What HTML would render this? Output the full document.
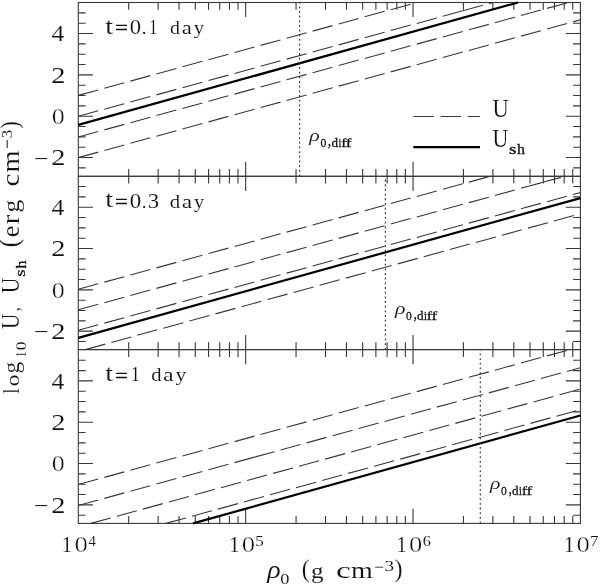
<!DOCTYPE html>
<html><head><meta charset="utf-8"><style>
html,body{margin:0;padding:0;background:#fff;}
svg{display:block;}
</style></head><body>
<svg width="600" height="585" viewBox="0 0 600 585">
<rect width="600" height="585" fill="#fff"/>
<rect x="78.3" y="2.5" width="502.10" height="173.80" fill="none" stroke="#383838" stroke-width="1.1"/>
<rect x="78.3" y="176.3" width="502.10" height="173.30" fill="none" stroke="#383838" stroke-width="1.1"/>
<rect x="78.3" y="349.6" width="502.10" height="173.80" fill="none" stroke="#383838" stroke-width="1.1"/>
<path d="M128.68 176.30v-7.3M128.68 2.50v7.3M158.15 176.30v-7.3M158.15 2.50v7.3M179.06 176.30v-7.3M179.06 2.50v7.3M195.28 176.30v-7.3M195.28 2.50v7.3M208.54 176.30v-7.3M208.54 2.50v7.3M219.74 176.30v-7.3M219.74 2.50v7.3M229.45 176.30v-7.3M229.45 2.50v7.3M238.01 176.30v-7.3M238.01 2.50v7.3M245.67 176.30v-14.6M245.67 2.50v14.6M296.05 176.30v-7.3M296.05 2.50v7.3M325.52 176.30v-7.3M325.52 2.50v7.3M346.43 176.30v-7.3M346.43 2.50v7.3M362.65 176.30v-7.3M362.65 2.50v7.3M375.90 176.30v-7.3M375.90 2.50v7.3M387.11 176.30v-7.3M387.11 2.50v7.3M396.81 176.30v-7.3M396.81 2.50v7.3M405.38 176.30v-7.3M405.38 2.50v7.3M413.03 176.30v-14.6M413.03 2.50v14.6M463.42 176.30v-7.3M463.42 2.50v7.3M492.89 176.30v-7.3M492.89 2.50v7.3M513.80 176.30v-7.3M513.80 2.50v7.3M530.02 176.30v-7.3M530.02 2.50v7.3M543.27 176.30v-7.3M543.27 2.50v7.3M554.47 176.30v-7.3M554.47 2.50v7.3M564.18 176.30v-7.3M564.18 2.50v7.3M572.74 176.30v-7.3M572.74 2.50v7.3M78.30 167.85h7.3M580.40 167.85h-7.3M78.30 157.52h14.6M580.40 157.52h-14.6M78.30 147.19h7.3M580.40 147.19h-7.3M78.30 136.86h7.3M580.40 136.86h-7.3M78.30 126.53h7.3M580.40 126.53h-7.3M78.30 116.20h14.6M580.40 116.20h-14.6M78.30 105.87h7.3M580.40 105.87h-7.3M78.30 95.54h7.3M580.40 95.54h-7.3M78.30 85.21h7.3M580.40 85.21h-7.3M78.30 74.88h14.6M580.40 74.88h-14.6M78.30 64.55h7.3M580.40 64.55h-7.3M78.30 54.22h7.3M580.40 54.22h-7.3M78.30 43.89h7.3M580.40 43.89h-7.3M78.30 33.56h14.6M580.40 33.56h-14.6M78.30 23.23h7.3M580.40 23.23h-7.3M78.30 12.90h7.3M580.40 12.90h-7.3M128.68 349.60v-7.3M128.68 176.30v7.3M158.15 349.60v-7.3M158.15 176.30v7.3M179.06 349.60v-7.3M179.06 176.30v7.3M195.28 349.60v-7.3M195.28 176.30v7.3M208.54 349.60v-7.3M208.54 176.30v7.3M219.74 349.60v-7.3M219.74 176.30v7.3M229.45 349.60v-7.3M229.45 176.30v7.3M238.01 349.60v-7.3M238.01 176.30v7.3M245.67 349.60v-14.6M245.67 176.30v14.6M296.05 349.60v-7.3M296.05 176.30v7.3M325.52 349.60v-7.3M325.52 176.30v7.3M346.43 349.60v-7.3M346.43 176.30v7.3M362.65 349.60v-7.3M362.65 176.30v7.3M375.90 349.60v-7.3M375.90 176.30v7.3M387.11 349.60v-7.3M387.11 176.30v7.3M396.81 349.60v-7.3M396.81 176.30v7.3M405.38 349.60v-7.3M405.38 176.30v7.3M413.03 349.60v-14.6M413.03 176.30v14.6M463.42 349.60v-7.3M463.42 176.30v7.3M492.89 349.60v-7.3M492.89 176.30v7.3M513.80 349.60v-7.3M513.80 176.30v7.3M530.02 349.60v-7.3M530.02 176.30v7.3M543.27 349.60v-7.3M543.27 176.30v7.3M554.47 349.60v-7.3M554.47 176.30v7.3M564.18 349.60v-7.3M564.18 176.30v7.3M572.74 349.60v-7.3M572.74 176.30v7.3M78.30 341.50h7.3M580.40 341.50h-7.3M78.30 331.17h14.6M580.40 331.17h-14.6M78.30 320.84h7.3M580.40 320.84h-7.3M78.30 310.51h7.3M580.40 310.51h-7.3M78.30 300.18h7.3M580.40 300.18h-7.3M78.30 289.85h14.6M580.40 289.85h-14.6M78.30 279.52h7.3M580.40 279.52h-7.3M78.30 269.19h7.3M580.40 269.19h-7.3M78.30 258.86h7.3M580.40 258.86h-7.3M78.30 248.53h14.6M580.40 248.53h-14.6M78.30 238.20h7.3M580.40 238.20h-7.3M78.30 227.87h7.3M580.40 227.87h-7.3M78.30 217.54h7.3M580.40 217.54h-7.3M78.30 207.21h14.6M580.40 207.21h-14.6M78.30 196.88h7.3M580.40 196.88h-7.3M78.30 186.55h7.3M580.40 186.55h-7.3M128.68 523.40v-7.3M128.68 349.60v7.3M158.15 523.40v-7.3M158.15 349.60v7.3M179.06 523.40v-7.3M179.06 349.60v7.3M195.28 523.40v-7.3M195.28 349.60v7.3M208.54 523.40v-7.3M208.54 349.60v7.3M219.74 523.40v-7.3M219.74 349.60v7.3M229.45 523.40v-7.3M229.45 349.60v7.3M238.01 523.40v-7.3M238.01 349.60v7.3M245.67 523.40v-14.6M245.67 349.60v14.6M296.05 523.40v-7.3M296.05 349.60v7.3M325.52 523.40v-7.3M325.52 349.60v7.3M346.43 523.40v-7.3M346.43 349.60v7.3M362.65 523.40v-7.3M362.65 349.60v7.3M375.90 523.40v-7.3M375.90 349.60v7.3M387.11 523.40v-7.3M387.11 349.60v7.3M396.81 523.40v-7.3M396.81 349.60v7.3M405.38 523.40v-7.3M405.38 349.60v7.3M413.03 523.40v-14.6M413.03 349.60v14.6M463.42 523.40v-7.3M463.42 349.60v7.3M492.89 523.40v-7.3M492.89 349.60v7.3M513.80 523.40v-7.3M513.80 349.60v7.3M530.02 523.40v-7.3M530.02 349.60v7.3M543.27 523.40v-7.3M543.27 349.60v7.3M554.47 523.40v-7.3M554.47 349.60v7.3M564.18 523.40v-7.3M564.18 349.60v7.3M572.74 523.40v-7.3M572.74 349.60v7.3M78.30 515.20h7.3M580.40 515.20h-7.3M78.30 504.87h14.6M580.40 504.87h-14.6M78.30 494.54h7.3M580.40 494.54h-7.3M78.30 484.21h7.3M580.40 484.21h-7.3M78.30 473.88h7.3M580.40 473.88h-7.3M78.30 463.55h14.6M580.40 463.55h-14.6M78.30 453.22h7.3M580.40 453.22h-7.3M78.30 442.89h7.3M580.40 442.89h-7.3M78.30 432.56h7.3M580.40 432.56h-7.3M78.30 422.23h14.6M580.40 422.23h-14.6M78.30 411.90h7.3M580.40 411.90h-7.3M78.30 401.57h7.3M580.40 401.57h-7.3M78.30 391.24h7.3M580.40 391.24h-7.3M78.30 380.91h14.6M580.40 380.91h-14.6M78.30 370.58h7.3M580.40 370.58h-7.3M78.30 360.25h7.3M580.40 360.25h-7.3" stroke="#383838" stroke-width="1.1" fill="none"/>
<path d="M78.30 95.40L416.86 2.50" stroke="#383838" stroke-width="1.1" stroke-dasharray="20.7 6.3" fill="none"/>
<path d="M78.30 116.30L462.90 10.77" stroke="#383838" stroke-width="1.1" stroke-dasharray="20.7 6.3" fill="none"/>
<path d="M462.90 10.77L493.02 2.50" stroke="#383838" stroke-width="1.1" stroke-dasharray="20.7 6.3" fill="none"/>
<path d="M78.30 137.00L568.46 2.50" stroke="#383838" stroke-width="1.1" stroke-dasharray="20.7 6.3" fill="none"/>
<path d="M78.30 157.60L580.40 19.82" stroke="#383838" stroke-width="1.1" stroke-dasharray="20.7 6.3" fill="none"/>
<path d="M78.30 124.90L517.96 2.50" stroke="#000" stroke-width="2.2" fill="none"/>
<path d="M78.30 289.30L490.11 176.30" stroke="#383838" stroke-width="1.1" stroke-dasharray="20.7 6.3" fill="none"/>
<path d="M78.30 309.80L541.00 182.84" stroke="#383838" stroke-width="1.1" stroke-dasharray="20.7 6.3" fill="none"/>
<path d="M541.00 182.84L564.82 176.30" stroke="#383838" stroke-width="1.1" stroke-dasharray="20.7 6.3" fill="none"/>
<path d="M78.30 330.30L580.40 192.52" stroke="#383838" stroke-width="1.1" stroke-dasharray="20.7 6.3" fill="none"/>
<path d="M85.30 349.60L580.40 213.74" stroke="#383838" stroke-width="1.1" stroke-dasharray="20.7 6.3" fill="none"/>
<path d="M78.30 337.85L580.40 198.07" stroke="#000" stroke-width="2.2" fill="none"/>
<path d="M78.30 484.50L569.92 349.60" stroke="#383838" stroke-width="1.1" stroke-dasharray="20.7 6.3" fill="none"/>
<path d="M78.30 505.50L254.50 457.15" stroke="#383838" stroke-width="1.1" stroke-dasharray="20.7 6.3" fill="none"/>
<path d="M254.50 457.15L580.40 367.72" stroke="#383838" stroke-width="1.1" stroke-dasharray="20.7 6.3" fill="none"/>
<path d="M90.80 523.40L580.40 389.05" stroke="#383838" stroke-width="1.1" stroke-dasharray="20.7 6.3" fill="none"/>
<path d="M165.90 523.40L580.40 409.66" stroke="#383838" stroke-width="1.1" stroke-dasharray="20.7 6.3" fill="none"/>
<path d="M193.00 523.40L580.40 415.55" stroke="#000" stroke-width="2.2" fill="none"/>
<path d="M299.6 176.3V2.5" stroke="#383838" stroke-width="1.2" stroke-dasharray="1.8 2.87" fill="none"/>
<path d="M385.4 349.6V176.3" stroke="#383838" stroke-width="1.2" stroke-dasharray="1.8 2.87" fill="none"/>
<path d="M480.3 523.4V349.6" stroke="#383838" stroke-width="1.2" stroke-dasharray="1.8 2.87" fill="none"/>
<path d="M413.3 116.5H480" stroke="#383838" stroke-width="1.1" stroke-dasharray="20.5 6.7" fill="none"/>
<path d="M413.3 147.1H480" stroke="#000" stroke-width="2.2" fill="none"/>
<g style="will-change:transform" opacity="0.999">
<text transform="matrix(1.1247,0,0,1.2264,492.528,116.660)" font-family='"Liberation Serif", serif' font-size="20.0" font-weight="normal" font-style="normal" fill="#111" stroke="#fff" stroke-width="0.1">U</text>
<text transform="matrix(1.0953,0,0,1.2339,492.540,147.459)" font-family='"Liberation Serif", serif' font-size="20.0" font-weight="normal" font-style="normal" fill="#111" stroke="#fff" stroke-width="0.1">U</text>
<text transform="matrix(0.9615,0,0,0.7485,509.011,154.254)" font-family='"Liberation Serif", serif' font-size="20.0" font-weight="normal" font-style="normal" fill="#111" stroke="#111" stroke-width="0.45">s</text>
<text transform="matrix(0.7966,0,0,0.6918,517.044,154.400)" font-family='"Liberation Serif", serif' font-size="20.0" font-weight="normal" font-style="normal" fill="#111" stroke="#111" stroke-width="0.45">h</text>
<text transform="matrix(1.4111,0,0,1.1174,105.324,33.582)" font-family='"Liberation Serif", serif' font-size="20.0" font-weight="normal" font-style="normal" fill="#111" stroke="#fff" stroke-width="0.1">t</text>
<text transform="matrix(1.1497,0,0,0.9800,114.955,34.458)" font-family='"Liberation Serif", serif' font-size="20.0" font-weight="normal" font-style="normal" fill="#111" stroke="#111" stroke-width="0.35">=</text>
<text transform="matrix(1.1325,0,0,1.0077,129.637,33.703)" font-family='"Liberation Serif", serif' font-size="20.0" font-weight="normal" font-style="normal" fill="#111" stroke="#fff" stroke-width="0.1">0</text>
<text transform="matrix(0.9309,0,0,0.9500,141.773,33.800)" font-family='"Liberation Serif", serif' font-size="20.0" font-weight="normal" font-style="normal" fill="#111" stroke="#fff" stroke-width="0.1">.</text>
<text transform="matrix(0.7953,0,0,1.0301,149.302,33.900)" font-family='"Liberation Serif", serif' font-size="20.0" font-weight="normal" font-style="normal" fill="#111" stroke="#fff" stroke-width="0.1">1</text>
<text transform="matrix(0.9963,0,0,0.9500,169.880,33.800)" font-family='"Liberation Serif", serif' font-size="20.0" font-weight="normal" font-style="normal" fill="#111" stroke="#fff" stroke-width="0.1">d</text>
<text transform="matrix(1.1392,0,0,0.9500,181.799,33.800)" font-family='"Liberation Serif", serif' font-size="20.0" font-weight="normal" font-style="normal" fill="#111" stroke="#fff" stroke-width="0.1">a</text>
<text transform="matrix(1.0436,0,0,0.9500,193.645,33.800)" font-family='"Liberation Serif", serif' font-size="20.0" font-weight="normal" font-style="normal" fill="#111" stroke="#fff" stroke-width="0.1">y</text>
<text transform="matrix(1.4111,0,0,1.1174,105.324,207.382)" font-family='"Liberation Serif", serif' font-size="20.0" font-weight="normal" font-style="normal" fill="#111" stroke="#fff" stroke-width="0.1">t</text>
<text transform="matrix(1.1497,0,0,0.9800,114.955,208.258)" font-family='"Liberation Serif", serif' font-size="20.0" font-weight="normal" font-style="normal" fill="#111" stroke="#111" stroke-width="0.35">=</text>
<text transform="matrix(1.1443,0,0,1.0077,129.828,207.503)" font-family='"Liberation Serif", serif' font-size="20.0" font-weight="normal" font-style="normal" fill="#111" stroke="#fff" stroke-width="0.1">0</text>
<text transform="matrix(0.8463,0,0,0.9500,141.984,207.600)" font-family='"Liberation Serif", serif' font-size="20.0" font-weight="normal" font-style="normal" fill="#111" stroke="#fff" stroke-width="0.1">.</text>
<text transform="matrix(1.1378,0,0,1.0121,147.711,207.502)" font-family='"Liberation Serif", serif' font-size="20.0" font-weight="normal" font-style="normal" fill="#111" stroke="#fff" stroke-width="0.1">3</text>
<text transform="matrix(1.0406,0,0,0.9500,169.848,207.600)" font-family='"Liberation Serif", serif' font-size="20.0" font-weight="normal" font-style="normal" fill="#111" stroke="#fff" stroke-width="0.1">d</text>
<text transform="matrix(1.1645,0,0,0.9500,181.681,207.600)" font-family='"Liberation Serif", serif' font-size="20.0" font-weight="normal" font-style="normal" fill="#111" stroke="#fff" stroke-width="0.1">a</text>
<text transform="matrix(1.0230,0,0,0.9500,193.950,207.600)" font-family='"Liberation Serif", serif' font-size="20.0" font-weight="normal" font-style="normal" fill="#111" stroke="#fff" stroke-width="0.1">y</text>
<text transform="matrix(1.4111,0,0,1.1174,105.324,381.082)" font-family='"Liberation Serif", serif' font-size="20.0" font-weight="normal" font-style="normal" fill="#111" stroke="#fff" stroke-width="0.1">t</text>
<text transform="matrix(1.1497,0,0,0.9800,114.955,381.958)" font-family='"Liberation Serif", serif' font-size="20.0" font-weight="normal" font-style="normal" fill="#111" stroke="#111" stroke-width="0.35">=</text>
<text transform="matrix(0.9232,0,0,1.0301,130.777,381.400)" font-family='"Liberation Serif", serif' font-size="20.0" font-weight="normal" font-style="normal" fill="#111" stroke="#fff" stroke-width="0.1">1</text>
<text transform="matrix(1.0295,0,0,0.9500,151.156,381.300)" font-family='"Liberation Serif", serif' font-size="20.0" font-weight="normal" font-style="normal" fill="#111" stroke="#fff" stroke-width="0.1">d</text>
<text transform="matrix(1.1961,0,0,0.9500,162.909,381.300)" font-family='"Liberation Serif", serif' font-size="20.0" font-weight="normal" font-style="normal" fill="#111" stroke="#fff" stroke-width="0.1">a</text>
<text transform="matrix(1.0850,0,0,0.9500,175.485,381.300)" font-family='"Liberation Serif", serif' font-size="20.0" font-weight="normal" font-style="normal" fill="#111" stroke="#fff" stroke-width="0.1">y</text>
<text transform="matrix(1.0945,0,0,0.8796,309.356,140.755)" font-family='"Liberation Serif", serif' font-size="20.0" font-weight="normal" font-style="italic" fill="#111" stroke="#fff" stroke-width="0.1">ρ</text>
<text transform="matrix(0.5781,0,0,0.6224,320.460,146.578)" font-family='"Liberation Serif", serif' font-size="20.0" font-weight="normal" font-style="normal" fill="#111" stroke="#111" stroke-width="0.45">0</text>
<text transform="matrix(0.6043,0,0,0.8176,328.040,145.685)" font-family='"Liberation Serif", serif' font-size="20.0" font-weight="normal" font-style="normal" fill="#111" stroke="#111" stroke-width="0.45">,</text>
<text transform="matrix(0.6531,0,0,0.5756,331.428,146.588)" font-family='"Liberation Serif", serif' font-size="20.0" font-weight="normal" font-style="normal" fill="#111" stroke="#111" stroke-width="0.45">d</text>
<text transform="matrix(0.5046,0,0,0.5890,338.488,146.700)" font-family='"Liberation Serif", serif' font-size="20.0" font-weight="normal" font-style="normal" fill="#111" stroke="#111" stroke-width="0.45">i</text>
<text transform="matrix(0.7941,0,0,0.5752,341.211,146.700)" font-family='"Liberation Serif", serif' font-size="20.0" font-weight="normal" font-style="normal" fill="#111" stroke="#111" stroke-width="0.45">f</text>
<text transform="matrix(0.8602,0,0,0.5752,345.871,146.700)" font-family='"Liberation Serif", serif' font-size="20.0" font-weight="normal" font-style="normal" fill="#111" stroke="#111" stroke-width="0.45">f</text>
<text transform="matrix(1.0945,0,0,0.8796,394.956,314.255)" font-family='"Liberation Serif", serif' font-size="20.0" font-weight="normal" font-style="italic" fill="#111" stroke="#fff" stroke-width="0.1">ρ</text>
<text transform="matrix(0.5781,0,0,0.6224,406.060,320.078)" font-family='"Liberation Serif", serif' font-size="20.0" font-weight="normal" font-style="normal" fill="#111" stroke="#111" stroke-width="0.45">0</text>
<text transform="matrix(0.6043,0,0,0.8176,413.640,319.185)" font-family='"Liberation Serif", serif' font-size="20.0" font-weight="normal" font-style="normal" fill="#111" stroke="#111" stroke-width="0.45">,</text>
<text transform="matrix(0.6531,0,0,0.5756,417.028,320.088)" font-family='"Liberation Serif", serif' font-size="20.0" font-weight="normal" font-style="normal" fill="#111" stroke="#111" stroke-width="0.45">d</text>
<text transform="matrix(0.5046,0,0,0.5890,424.088,320.200)" font-family='"Liberation Serif", serif' font-size="20.0" font-weight="normal" font-style="normal" fill="#111" stroke="#111" stroke-width="0.45">i</text>
<text transform="matrix(0.7941,0,0,0.5752,426.811,320.200)" font-family='"Liberation Serif", serif' font-size="20.0" font-weight="normal" font-style="normal" fill="#111" stroke="#111" stroke-width="0.45">f</text>
<text transform="matrix(0.8602,0,0,0.5752,431.471,320.200)" font-family='"Liberation Serif", serif' font-size="20.0" font-weight="normal" font-style="normal" fill="#111" stroke="#111" stroke-width="0.45">f</text>
<text transform="matrix(1.0945,0,0,0.8796,489.956,489.055)" font-family='"Liberation Serif", serif' font-size="20.0" font-weight="normal" font-style="italic" fill="#111" stroke="#fff" stroke-width="0.1">ρ</text>
<text transform="matrix(0.5781,0,0,0.6224,501.060,494.878)" font-family='"Liberation Serif", serif' font-size="20.0" font-weight="normal" font-style="normal" fill="#111" stroke="#111" stroke-width="0.45">0</text>
<text transform="matrix(0.6043,0,0,0.8176,508.640,493.985)" font-family='"Liberation Serif", serif' font-size="20.0" font-weight="normal" font-style="normal" fill="#111" stroke="#111" stroke-width="0.45">,</text>
<text transform="matrix(0.6531,0,0,0.5756,512.028,494.888)" font-family='"Liberation Serif", serif' font-size="20.0" font-weight="normal" font-style="normal" fill="#111" stroke="#111" stroke-width="0.45">d</text>
<text transform="matrix(0.5046,0,0,0.5890,519.088,495.000)" font-family='"Liberation Serif", serif' font-size="20.0" font-weight="normal" font-style="normal" fill="#111" stroke="#111" stroke-width="0.45">i</text>
<text transform="matrix(0.7941,0,0,0.5752,521.811,495.000)" font-family='"Liberation Serif", serif' font-size="20.0" font-weight="normal" font-style="normal" fill="#111" stroke="#111" stroke-width="0.45">f</text>
<text transform="matrix(0.8602,0,0,0.5752,526.471,495.000)" font-family='"Liberation Serif", serif' font-size="20.0" font-weight="normal" font-style="normal" fill="#111" stroke="#111" stroke-width="0.45">f</text>
<text transform="matrix(1.2800,0,0,1.1547,51.600,41.160)" font-family='"Liberation Serif", serif' font-size="20.0" font-weight="normal" font-style="normal" fill="#111" stroke="#fff" stroke-width="0.1">4</text>
<text transform="matrix(1.4219,0,0,1.1932,51.350,82.780)" font-family='"Liberation Serif", serif' font-size="20.0" font-weight="normal" font-style="normal" fill="#111" stroke="#fff" stroke-width="0.1">2</text>
<text transform="matrix(1.2977,0,0,1.1781,51.712,123.920)" font-family='"Liberation Serif", serif' font-size="20.0" font-weight="normal" font-style="normal" fill="#111" stroke="#fff" stroke-width="0.3">0</text>
<text transform="matrix(1.2894,0,0,1.1043,34.016,165.703)" font-family='"Liberation Serif", serif' font-size="20.0" font-weight="normal" font-style="normal" fill="#111" stroke="#fff" stroke-width="0.1">−</text>
<text transform="matrix(1.4219,0,0,1.1932,51.150,165.420)" font-family='"Liberation Serif", serif' font-size="20.0" font-weight="normal" font-style="normal" fill="#111" stroke="#fff" stroke-width="0.1">2</text>
<text transform="matrix(1.2800,0,0,1.1547,51.600,214.810)" font-family='"Liberation Serif", serif' font-size="20.0" font-weight="normal" font-style="normal" fill="#111" stroke="#fff" stroke-width="0.1">4</text>
<text transform="matrix(1.4219,0,0,1.1932,51.350,256.430)" font-family='"Liberation Serif", serif' font-size="20.0" font-weight="normal" font-style="normal" fill="#111" stroke="#fff" stroke-width="0.1">2</text>
<text transform="matrix(1.2977,0,0,1.1781,51.712,297.570)" font-family='"Liberation Serif", serif' font-size="20.0" font-weight="normal" font-style="normal" fill="#111" stroke="#fff" stroke-width="0.3">0</text>
<text transform="matrix(1.2894,0,0,1.1043,34.016,339.353)" font-family='"Liberation Serif", serif' font-size="20.0" font-weight="normal" font-style="normal" fill="#111" stroke="#fff" stroke-width="0.1">−</text>
<text transform="matrix(1.4219,0,0,1.1932,51.150,339.070)" font-family='"Liberation Serif", serif' font-size="20.0" font-weight="normal" font-style="normal" fill="#111" stroke="#fff" stroke-width="0.1">2</text>
<text transform="matrix(1.2800,0,0,1.1547,51.600,388.510)" font-family='"Liberation Serif", serif' font-size="20.0" font-weight="normal" font-style="normal" fill="#111" stroke="#fff" stroke-width="0.1">4</text>
<text transform="matrix(1.4219,0,0,1.1932,51.350,430.130)" font-family='"Liberation Serif", serif' font-size="20.0" font-weight="normal" font-style="normal" fill="#111" stroke="#fff" stroke-width="0.1">2</text>
<text transform="matrix(1.2977,0,0,1.1781,51.712,471.270)" font-family='"Liberation Serif", serif' font-size="20.0" font-weight="normal" font-style="normal" fill="#111" stroke="#fff" stroke-width="0.3">0</text>
<text transform="matrix(1.2894,0,0,1.1043,34.016,513.053)" font-family='"Liberation Serif", serif' font-size="20.0" font-weight="normal" font-style="normal" fill="#111" stroke="#fff" stroke-width="0.1">−</text>
<text transform="matrix(1.4219,0,0,1.1932,51.150,512.770)" font-family='"Liberation Serif", serif' font-size="20.0" font-weight="normal" font-style="normal" fill="#111" stroke="#fff" stroke-width="0.1">2</text>
<text transform="matrix(1.0226,0,0,1.1815,61.802,552.300)" font-family='"Liberation Serif", serif' font-size="20.0" font-weight="normal" font-style="normal" fill="#111" stroke="#fff" stroke-width="0.1">1</text>
<text transform="matrix(1.3331,0,0,1.1855,74.385,552.368)" font-family='"Liberation Serif", serif' font-size="20.0" font-weight="normal" font-style="normal" fill="#111" stroke="#fff" stroke-width="0.3">0</text>
<text transform="matrix(0.7422,0,0,0.7596,88.610,545.700)" font-family='"Liberation Serif", serif' font-size="20.0" font-weight="normal" font-style="normal" fill="#111" stroke="#fff" stroke-width="0.1">4</text>
<text transform="matrix(1.0226,0,0,1.1815,229.202,552.300)" font-family='"Liberation Serif", serif' font-size="20.0" font-weight="normal" font-style="normal" fill="#111" stroke="#fff" stroke-width="0.1">1</text>
<text transform="matrix(1.3331,0,0,1.1855,241.785,552.368)" font-family='"Liberation Serif", serif' font-size="20.0" font-weight="normal" font-style="normal" fill="#111" stroke="#fff" stroke-width="0.3">0</text>
<text transform="matrix(0.8564,0,0,0.7524,255.305,545.553)" font-family='"Liberation Serif", serif' font-size="20.0" font-weight="normal" font-style="normal" fill="#111" stroke="#fff" stroke-width="0.1">5</text>
<text transform="matrix(1.0226,0,0,1.1815,396.402,552.300)" font-family='"Liberation Serif", serif' font-size="20.0" font-weight="normal" font-style="normal" fill="#111" stroke="#fff" stroke-width="0.1">1</text>
<text transform="matrix(1.3331,0,0,1.1855,408.985,552.368)" font-family='"Liberation Serif", serif' font-size="20.0" font-weight="normal" font-style="normal" fill="#111" stroke="#fff" stroke-width="0.3">0</text>
<text transform="matrix(0.8075,0,0,0.7442,422.806,545.555)" font-family='"Liberation Serif", serif' font-size="20.0" font-weight="normal" font-style="normal" fill="#111" stroke="#fff" stroke-width="0.1">6</text>
<text transform="matrix(1.0226,0,0,1.1815,564.002,552.300)" font-family='"Liberation Serif", serif' font-size="20.0" font-weight="normal" font-style="normal" fill="#111" stroke="#fff" stroke-width="0.1">1</text>
<text transform="matrix(1.3331,0,0,1.1855,576.585,552.368)" font-family='"Liberation Serif", serif' font-size="20.0" font-weight="normal" font-style="normal" fill="#111" stroke="#fff" stroke-width="0.3">0</text>
<text transform="matrix(0.8513,0,0,0.7636,589.978,545.700)" font-family='"Liberation Serif", serif' font-size="20.0" font-weight="normal" font-style="normal" fill="#111" stroke="#fff" stroke-width="0.1">7</text>
<text transform="matrix(1.3997,0,0,1.2534,267.311,577.663)" font-family='"Liberation Serif", serif' font-size="20.0" font-weight="normal" font-style="italic" fill="#111" stroke="#fff" stroke-width="0.1">ρ</text>
<text transform="matrix(0.9202,0,0,0.7261,280.199,583.858)" font-family='"Liberation Serif", serif' font-size="20.0" font-weight="normal" font-style="normal" fill="#111" stroke="#fff" stroke-width="0.1">0</text>
<text transform="matrix(1.1875,0,0,1.2407,301.656,577.117)" font-family='"Liberation Serif", serif' font-size="20.0" font-weight="normal" font-style="normal" fill="#111" stroke="#fff" stroke-width="0.1">(</text>
<text transform="matrix(1.2557,0,0,1.0562,310.921,577.841)" font-family='"Liberation Serif", serif' font-size="20.0" font-weight="normal" font-style="normal" fill="#111" stroke="#fff" stroke-width="0.1">g</text>
<text transform="matrix(1.6667,0,0,1.1851,336.030,577.869)" font-family='"Liberation Serif", serif' font-size="20.0" font-weight="normal" font-style="normal" fill="#111" stroke="#fff" stroke-width="0.1">c</text>
<text transform="matrix(1.4031,0,0,1.1779,350.911,577.800)" font-family='"Liberation Serif", serif' font-size="20.0" font-weight="normal" font-style="normal" fill="#111" stroke="#fff" stroke-width="0.1">m</text>
<text transform="matrix(0.8811,0,0,1.2047,374.222,574.800)" font-family='"Liberation Serif", serif' font-size="20.0" font-weight="normal" font-style="normal" fill="#111" stroke="#fff" stroke-width="0.1">−</text>
<text transform="matrix(0.9562,0,0,0.7814,384.385,571.447)" font-family='"Liberation Serif", serif' font-size="20.0" font-weight="normal" font-style="normal" fill="#111" stroke="#fff" stroke-width="0.1">3</text>
<text transform="matrix(1.2070,0,0,1.2959,394.422,577.382)" font-family='"Liberation Serif", serif' font-size="20.0" font-weight="normal" font-style="normal" fill="#111" stroke="#fff" stroke-width="0.1">)</text>
<text transform="matrix(0,-1.0093,1.2034,0,19.100,393.804)" font-family='"Liberation Serif", serif' font-size="20.0" font-weight="normal" font-style="normal" fill="#111" stroke="#fff" stroke-width="0.1">l</text>
<text transform="matrix(0,-1.1915,0.9252,0,18.919,386.508)" font-family='"Liberation Serif", serif' font-size="20.0" font-weight="normal" font-style="normal" fill="#111" stroke="#fff" stroke-width="0.1">o</text>
<text transform="matrix(0,-1.1644,1.1042,0,19.134,373.501)" font-family='"Liberation Serif", serif' font-size="20.0" font-weight="normal" font-style="normal" fill="#111" stroke="#fff" stroke-width="0.1">g</text>
<text transform="matrix(0,-0.5113,0.7574,0,25.900,356.899)" font-family='"Liberation Serif", serif' font-size="20.0" font-weight="normal" font-style="normal" fill="#111" stroke="#fff" stroke-width="0.1">1</text>
<text transform="matrix(0,-0.8730,0.7632,0,25.751,350.265)" font-family='"Liberation Serif", serif' font-size="20.0" font-weight="normal" font-style="normal" fill="#111" stroke="#fff" stroke-width="0.1">0</text>
<text transform="matrix(0,-1.0512,1.2715,0,18.952,329.041)" font-family='"Liberation Serif", serif' font-size="20.0" font-weight="normal" font-style="normal" fill="#111" stroke="#fff" stroke-width="0.1">U</text>
<text transform="matrix(0,-0.8058,0.8955,0,18.745,311.314)" font-family='"Liberation Serif", serif' font-size="20.0" font-weight="normal" font-style="normal" fill="#111" stroke="#fff" stroke-width="0.1">,</text>
<text transform="matrix(0,-1.0733,1.2565,0,18.955,293.151)" font-family='"Liberation Serif", serif' font-size="20.0" font-weight="normal" font-style="normal" fill="#111" stroke="#fff" stroke-width="0.1">U</text>
<text transform="matrix(0,-0.9295,0.6965,0,24.864,276.862)" font-family='"Liberation Serif", serif' font-size="20.0" font-weight="normal" font-style="normal" fill="#111" stroke="#111" stroke-width="0.45">s</text>
<text transform="matrix(0,-0.7966,0.7422,0,25.900,268.556)" font-family='"Liberation Serif", serif' font-size="20.0" font-weight="normal" font-style="normal" fill="#111" stroke="#111" stroke-width="0.45">h</text>
<text transform="matrix(0,-1.2459,1.3289,0,18.442,247.195)" font-family='"Liberation Serif", serif' font-size="20.0" font-weight="normal" font-style="normal" fill="#111" stroke="#fff" stroke-width="0.1">(</text>
<text transform="matrix(0,-1.3239,1.2267,0,18.760,237.234)" font-family='"Liberation Serif", serif' font-size="20.0" font-weight="normal" font-style="normal" fill="#111" stroke="#fff" stroke-width="0.1">e</text>
<text transform="matrix(0,-1.4300,1.2521,0,19.000,224.373)" font-family='"Liberation Serif", serif' font-size="20.0" font-weight="normal" font-style="normal" fill="#111" stroke="#fff" stroke-width="0.1">r</text>
<text transform="matrix(0,-1.2786,1.1591,0,19.097,212.599)" font-family='"Liberation Serif", serif' font-size="20.0" font-weight="normal" font-style="normal" fill="#111" stroke="#fff" stroke-width="0.1">g</text>
<text transform="matrix(0,-1.4533,1.2163,0,18.562,186.607)" font-family='"Liberation Serif", serif' font-size="20.0" font-weight="normal" font-style="normal" fill="#111" stroke="#fff" stroke-width="0.1">c</text>
<text transform="matrix(0,-1.4166,1.2415,0,18.800,172.495)" font-family='"Liberation Serif", serif' font-size="20.0" font-weight="normal" font-style="normal" fill="#111" stroke="#fff" stroke-width="0.1">m</text>
<text transform="matrix(0,-0.8703,1.2047,0,15.400,148.767)" font-family='"Liberation Serif", serif' font-size="20.0" font-weight="normal" font-style="normal" fill="#111" stroke="#fff" stroke-width="0.1">−</text>
<text transform="matrix(0,-0.8473,0.7591,0,12.052,138.311)" font-family='"Liberation Serif", serif' font-size="20.0" font-weight="normal" font-style="normal" fill="#111" stroke="#fff" stroke-width="0.1">3</text>
<text transform="matrix(0,-1.1097,1.3124,0,18.212,128.515)" font-family='"Liberation Serif", serif' font-size="20.0" font-weight="normal" font-style="normal" fill="#111" stroke="#fff" stroke-width="0.1">)</text>
</g>
</svg>
</body></html>
